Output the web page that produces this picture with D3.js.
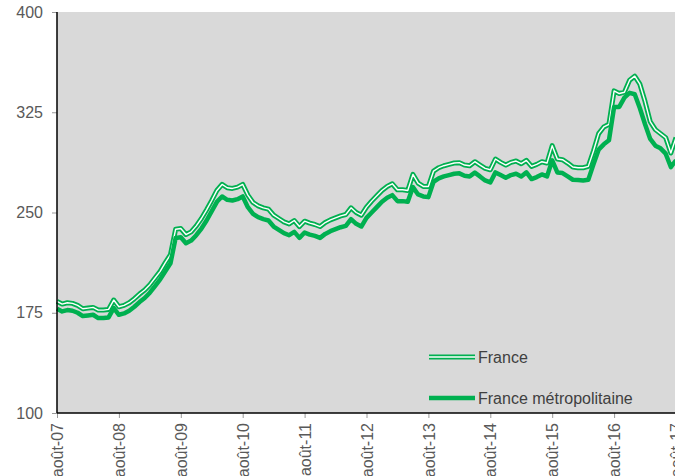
<!DOCTYPE html>
<html>
<head>
<meta charset="utf-8">
<title>prix</title>
<script type="text/javascript" src="https://cdn.jsdelivr.net/npm/d3@7/dist/d3.min.js"></script>
<style>
body { margin: 0; background: #fff; }
text { font-family: "Liberation Sans", Arial, sans-serif; }
</style>
</head>
<body>
<svg width="675" height="476"></svg>
<script type="text/javascript">

// valeurs mensuelles, août 2007 -> août 2017
var france = [183.5, 181.5, 182.5, 182, 180.5, 178, 178.5, 179, 177, 177, 177.5, 184.5,
  179.5, 180.5, 182.5, 185.5, 189, 192, 196, 201, 206, 212.5, 218.5, 237.5,
  238, 233.5, 235.5, 240, 245.5, 252, 259, 266.5, 271, 268.5, 268, 269,
  271, 263, 257.5, 255, 253.5, 252.5, 248, 245.5, 243, 241.5, 244, 239.5,
  243.5, 242, 241, 239.5, 242.5, 244.5, 246, 247.5, 248.5, 253.5, 250, 248,
  254, 258.5, 262.5, 266.5, 269.5, 271.5, 267, 267, 266.5, 278.5, 272, 269.5,
  269.5, 281, 283.5, 285, 286, 287, 287.3, 285.5, 285, 288, 285.5, 283,
  282, 290, 287.5, 285.5, 287.5, 288.5, 286.5, 289, 284.5, 286, 288, 287,
  300, 290, 289.5, 287, 284, 283.5, 283.5, 284.5, 296, 309, 314, 316,
  341, 339, 340, 349, 352, 346, 333, 318, 312, 309, 306, 294.5, 306];

var metro = [178, 176, 177, 176.5, 175, 172.5, 173, 173.5, 171, 171, 171.5, 178.5,
  173.5, 174.5, 176.5, 179.5, 183, 186, 190, 195, 200, 206, 212, 231,
  231.5, 227, 229, 233, 238, 244, 251, 258, 262, 259.5, 259, 260,
  262, 254, 249, 246.5, 245, 244, 239.5, 237, 234.5, 233, 235.5, 231,
  235, 233.5, 232.5, 231, 234, 236, 237.5, 239, 240, 245, 241.5, 239.5,
  246, 250, 254, 258, 261, 263, 258.5, 258.5, 258, 269, 263.5, 262,
  261.5, 273, 275.5, 277, 278, 279, 279.3, 277.5, 277, 279.8, 277, 274,
  272.5, 280, 278, 276, 278, 279, 277, 280, 275, 276.5, 278.5, 277,
  289, 280, 279.5, 277, 274.5, 274.3, 274, 274.5, 286, 297, 301, 304,
  329, 329, 336, 339.5, 338.5, 328, 316, 305, 300, 298, 294, 284, 289];

var xLabels = ["août-07", "août-08", "août-09", "août-10", "août-11", "août-12",
  "août-13", "août-14", "août-15", "août-16", "août-17"];
var yTicks = [100, 175, 250, 325, 400];
var series = ["France", "France métropolitaine"];

var green = "#00B050";
var svg = d3.select("svg");

var x = d3.scaleLinear().domain([0, 120]).range([57, 676]);
var y = d3.scaleLinear().domain([100, 400]).range([413, 12]);

svg.append("rect")
  .attr("x", 57).attr("y", 12)
  .attr("width", 676 - 57).attr("height", 413 - 12)
  .attr("fill", "#D9D9D9");

var line = d3.line()
  .x(function(d, i) { return x(i); })
  .y(function(d) { return y(d); });

// France : trait double
svg.append("path").attr("d", line(france))
  .attr("fill", "none").attr("stroke", green).attr("stroke-width", 5)
  .attr("stroke-linejoin", "round");
svg.append("path").attr("d", line(france))
  .attr("fill", "none").attr("stroke", "#fff").attr("stroke-width", 1.4)
  .attr("stroke-linejoin", "round");

// France metropolitaine
svg.append("path").attr("d", line(metro))
  .attr("fill", "none").attr("stroke", green).attr("stroke-width", 4.5)
  .attr("stroke-linejoin", "round");

// axe Y
var yAxis = svg.append("g").attr("transform", "translate(57,0)")
  .call(d3.axisLeft(y).tickValues(yTicks).tickSize(5).tickPadding(9));
yAxis.select(".domain").remove();
yAxis.selectAll("line").attr("stroke", "#999");
yAxis.selectAll("text").attr("fill", "#595959").style("font-size", "16px");

// axe X
var xAxis = svg.append("g").attr("transform", "translate(0,413)")
  .call(d3.axisBottom(x).tickValues(d3.range(0, 121, 12)).tickSize(5)
    .tickFormat(function(d, i) { return xLabels[i]; }));
xAxis.select(".domain").remove();
xAxis.selectAll("line").attr("stroke", "#999");
xAxis.selectAll("text")
  .attr("fill", "#595959").style("font-size", "16px")
  .attr("text-anchor", "end")
  .attr("transform", "rotate(-90)")
  .attr("x", -10).attr("y", 0).attr("dy", "0.35em");

svg.append("line").attr("x1", 57).attr("x2", 57).attr("y1", 12).attr("y2", 413)
  .attr("stroke", "#000").attr("stroke-width", 1.5);
svg.append("line").attr("x1", 57).attr("x2", 675).attr("y1", 413).attr("y2", 413)
  .attr("stroke", "#000").attr("stroke-width", 1.5);

// legende
var leg = svg.append("g");
leg.append("line").attr("x1", 429).attr("x2", 475).attr("y1", 357).attr("y2", 357)
  .attr("stroke", green).attr("stroke-width", 5);
leg.append("line").attr("x1", 429).attr("x2", 475).attr("y1", 357).attr("y2", 357)
  .attr("stroke", "#fff").attr("stroke-width", 1.4);
leg.append("line").attr("x1", 429).attr("x2", 475).attr("y1", 398).attr("y2", 398)
  .attr("stroke", green).attr("stroke-width", 4.5);
leg.selectAll("text").data(series).enter().append("text")
  .attr("x", 478)
  .attr("y", function(d, i) { return 363 + i * 41; })
  .attr("fill", "#404040").style("font-size", "16px")
  .text(function(d) { return d; });

</script>
</body>
</html>
